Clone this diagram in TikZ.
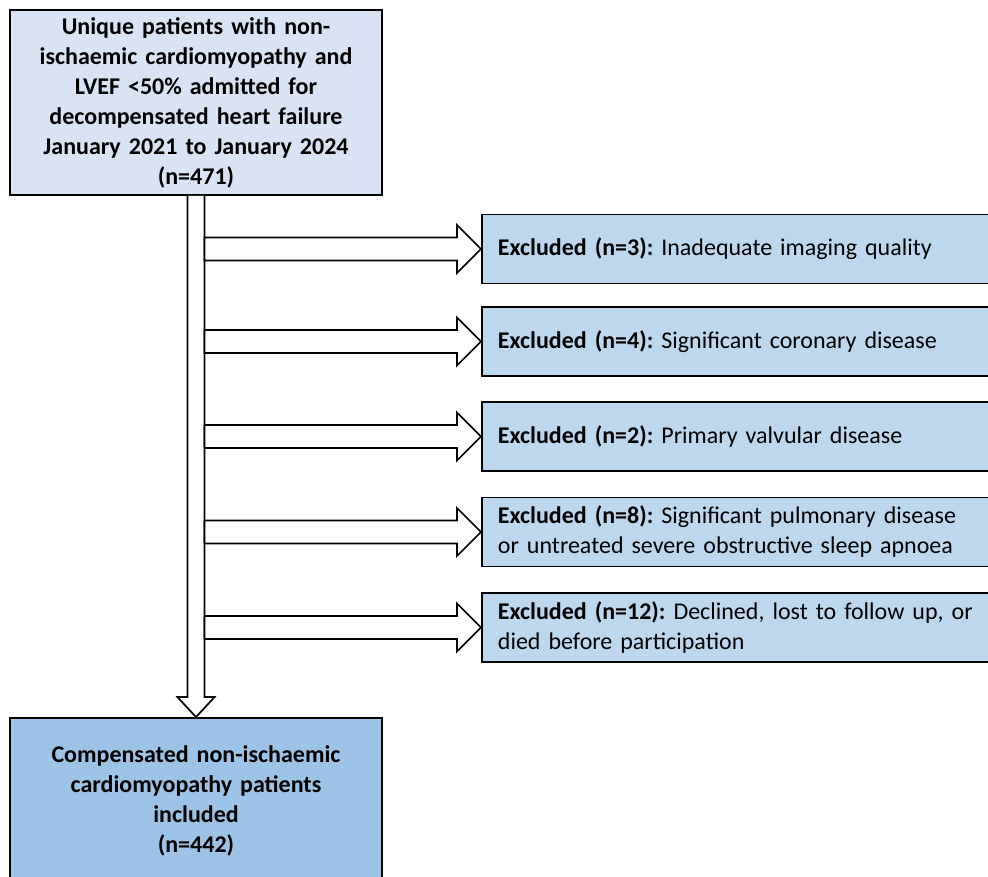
\documentclass[tikz,border=0pt]{standalone}
\usepackage{fontspec}
\setmainfont{Carlito}
\frenchspacing
\usetikzlibrary{calc}
\definecolor{admitblue}{HTML}{DAE3F3}
\definecolor{exclblue}{HTML}{BDD7EE}
\definecolor{inclblue}{HTML}{9DC3E6}
\tikzset{box/.style={draw,line width=1.4pt,align=center,minimum width=279pt,text width=268pt,font=\bfseries\fontsize{18}{22.5}\selectfont},
         excl/.style={draw,line width=1.4pt,fill=exclblue,anchor=west,minimum width=405pt,minimum height=51.75pt,text width=381pt,inner xsep=12pt,align=left,font=\fontsize{18}{22.5}\selectfont},
         hollow/.style={draw,fill=white,line width=1.3pt,line join=miter},
        }

\begin{document}
\begin{tikzpicture}[x=0.75pt,y=-0.75pt]
        \clip (0,0) rectangle (988,877);
        \node[box,fill=admitblue,minimum height=138.75pt](admit)at(196,102.5){Unique patients with non-\\ischaemic cardiomyopathy and\\LVEF <50\% admitted for\\decompensated heart failure\\January 2021 to January 2024\\(n=471)};
        \node[box,fill=inclblue,minimum height=124.5pt](incl)at(196,801){Compensated non-ischaemic\\cardiomyopathy patients\\included\\(n=442)};
        \node[excl](ex1)at(481,249){\textbf{Excluded (n=3):} Inadequate imaging quality};
        \node[excl](ex2)at(481,341.5){\textbf{Excluded (n=4):} Significant coronary disease};
        \node[excl](ex3)at(481,436.5){\textbf{Excluded (n=2):} Primary valvular disease};
        \node[excl](ex4)at(481,532){\textbf{Excluded (n=8):} Significant pulmonary disease\\or untreated severe obstructive sleep apnoea};
        \node[excl](ex5)at(481,627.5){\textbf{Excluded (n=12):} Declined, lost to follow up, or\\died before participation};

        \coordinate(spine)at($(admit.south)+(8.5,0)$);
        \draw[hollow]($(admit.south)+(-8.5,0)$)--($(incl.north)+(-8.5,-20)$)--++(-10,0)--(incl.north)--++(18.5,-20)--++(-10,0)--(spine);
        \foreach \exbox in {ex1,ex2,ex3,ex4,ex5}
            \draw[hollow]($(spine|-\exbox.west)+(0,-11.5)$)--($(\exbox.west)+(-24,-11.5)$)--++(0,-12.5)--(\exbox.west)--++(-24,24)--++(0,-12.5)--($(spine|-\exbox.west)+(0,11.5)$)--cycle;
\end{tikzpicture}
\end{document}
